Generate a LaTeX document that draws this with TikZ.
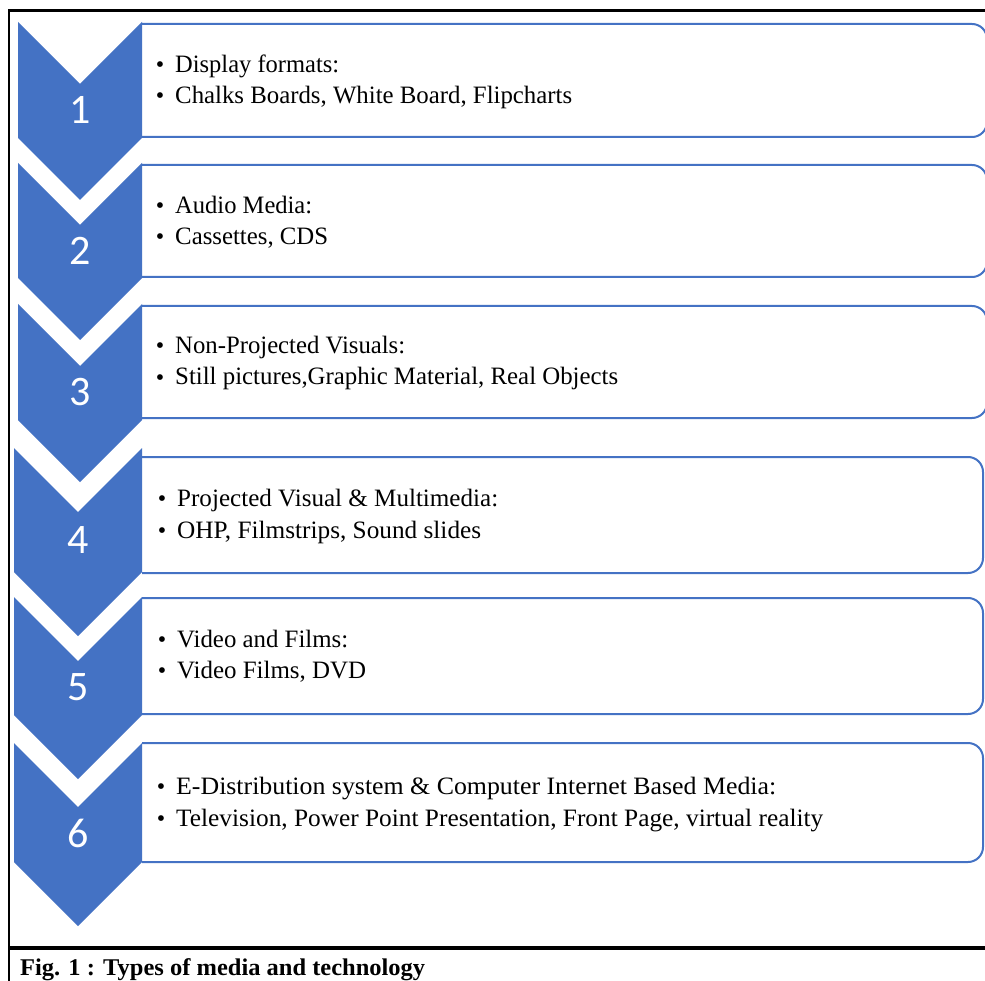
\documentclass[tikz,border=0pt]{standalone}
\usepackage{fontspec}
\setmainfont{Liberation Serif}
\newfontfamily\numfont{Carlito}
\usepackage{graphicx}
\definecolor{mblue}{HTML}{4472C4}
\tikzset{
  chev/.style={fill=mblue,draw=none},
  mbox/.style={draw=mblue,line width=2pt,rounded corners=15pt},
  numlab/.style={text=white,font=\numfont\fontsize{42}{42}\selectfont,inner sep=0pt},
  txt/.style={anchor=base west,inner sep=0pt,font=\fontsize{25}{25}\selectfont},
  bul/.style={anchor=base,inner sep=0pt,font=\fontsize{24}{24}\selectfont},
  frameline/.style={draw=black},
  captext/.style={anchor=base west,inner sep=0pt,font=\bfseries\fontsize{24}{24}\selectfont}
}
% #1 id, #2 left, #3 right, #4 top, #5 bottom, #6 boxtop, #7 boxbottom, #8 boxright, #9 number y
\newcommand\MediaRow[9]{%
  \pgfmathsetmacro\hw{(#3-#2)/2}%
  \pgfmathsetmacro\cx{(#3+#2)/2}%
  \fill[white] (142,#6) rectangle (#8-8,#7);
  \draw[mbox] (142,#6) -- (#8,#6) -- (#8,#7) -- (142,#7);
  \fill[chev] (#2,#4) -- (\cx,#4+\hw) -- (#3,#4) -- (#3,#5) -- (\cx,#5+\hw) -- (#2,#5) -- cycle;
  \node[numlab] (n#1) at (\cx,#9) {#1};
}
% #1 id, #2 bullet x, #3 text x, #4 baseline, #5 width, #6 text
\newcommand\MediaLine[6]{%
  \node[bul] (b#1) at (#2,#4) {\textbullet};
  \node[txt] (t#1) at (#3,#4) {\resizebox{#5pt}{\height}{#6}};
}
\begin{document}
\begin{tikzpicture}[x=1pt,y=-1pt]
  \useasboundingbox (0,0) rectangle (985,981);
  \fill[white] (0,0) rectangle (985,981);
  % frame
  \draw[frameline,line width=2pt] (9,10) -- (9,981);
  \draw[frameline,line width=3pt] (8,11) -- (985,11);
  \draw[frameline,line width=4pt] (8,948) -- (985,948);
  % rows
  \MediaRow{1}{18}{142}{22}{138}{24}{137}{987}{110}
  \MediaRow{2}{18}{142}{163}{278}{165}{277}{987}{251}
  \MediaRow{3}{18}{142}{304}{420}{306}{418}{987}{392}
  \MediaRow{4}{14}{142}{448}{572}{457}{573}{983}{540}
  \MediaRow{5}{14}{142}{597}{715}{598}{714}{983}{687}
  \MediaRow{6}{14}{142}{743}{862}{743}{862}{983}{833}
  % texts
  \MediaLine{1a}{160}{175}{73}{164}{Display formats:}
  \MediaLine{1b}{160}{175}{104}{397}{Chalks Boards, White Board, Flipcharts}
  \MediaLine{2a}{160}{175}{214}{137}{Audio Media:}
  \MediaLine{2b}{160}{175}{245}{153}{Cassettes, CDS}
  \MediaLine{3a}{160}{175}{354}{230}{Non-Projected Visuals:}
  \MediaLine{3b}{160}{175}{385}{443}{Still pictures,Graphic Material, Real Objects}
  \MediaLine{4a}{162}{177}{506}{321}{Projected Visual \& Multimedia:}
  \MediaLine{4b}{162}{177}{538}{304}{OHP, Filmstrips, Sound slides}
  \MediaLine{5a}{162}{177}{647}{171}{Video and Films:}
  \MediaLine{5b}{162}{177}{678}{189}{Video Films, DVD}
  \MediaLine{6a}{161}{176}{794}{600}{E-Distribution system \& Computer Internet Based Media:}
  \MediaLine{6b}{161}{176}{826}{647}{Television, Power Point Presentation, Front Page, virtual reality}
  % caption
  \node[captext] (caption) at (20,975) {\resizebox{405pt}{\height}{Fig. 1 : Types of media and technology}};
\end{tikzpicture}
\end{document}
